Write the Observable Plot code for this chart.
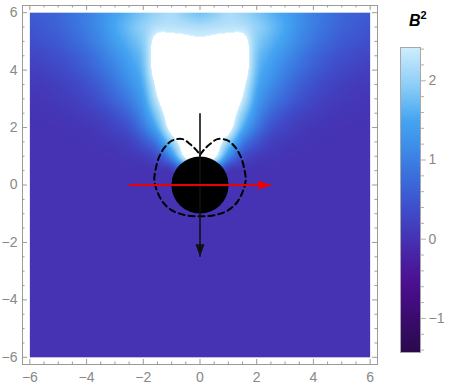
<!DOCTYPE html>
<html><head><meta charset="utf-8">
<script src="https://cdn.jsdelivr.net/npm/d3@7"></script>
<script src="https://cdn.jsdelivr.net/npm/@observablehq/plot@0.6"></script>
<style>
body{margin:0;background:#fff;}
#wrap{position:relative;width:458px;height:392px;overflow:hidden;background:#fff;}
#wrap svg{position:absolute;top:0;}
#blabel{position:absolute;left:409px;top:13px;font:italic bold 16px "Liberation Sans",Arial,sans-serif;line-height:16px;color:#000;white-space:nowrap;}
</style></head><body>
<div id="wrap"><div id="blabel">B<span style="font-size:11px;font-style:normal;position:relative;top:-7px;">2</span></div></div>
<script>
// ---- B^2 field (rows: y, columns: x) ----
const gridX = [-6,-5.5,-5,-4.5,-4,-3.5,-3,-2.5,-2,-1.5,-1,-0.5,0,0.5,1,1.5,2,2.5,3,3.5,4,4.5,5,5.5,6];
const gridY = [6,5.5,5,4.5,4,3.5,3,2.5,2,1.5,1,0.5,0,-3,-6];
const b2Rows = [
 [0.55,0.6,0.7,0.85,1.0,1.2,1.45,1.65,1.85,2.05,2.15,1.95,1.8,1.95,2.15,2.05,1.85,1.65,1.45,1.2,1.0,0.85,0.7,0.6,0.55],
 [0.48,0.55,0.65,0.8,0.98,1.2,1.5,1.75,2.0,2.25,2.28,2.25,2.2,2.25,2.28,2.25,2.0,1.75,1.5,1.2,0.98,0.8,0.65,0.55,0.48],
 [0.4,0.45,0.55,0.7,0.88,1.1,1.4,1.65,1.95,2.67,2.69,2.62,2.57,2.62,2.69,2.67,1.95,1.65,1.4,1.1,0.88,0.7,0.55,0.45,0.4],
 [0.28,0.33,0.42,0.55,0.72,0.95,1.2,1.5,1.85,2.87,3.2,3.3,3.3,3.3,3.2,2.87,1.85,1.5,1.2,0.95,0.72,0.55,0.42,0.33,0.28],
 [0.18,0.22,0.3,0.42,0.58,0.8,1.05,1.35,1.75,2.9,3.5,3.8,3.9,3.8,3.5,2.9,1.75,1.35,1.05,0.8,0.58,0.42,0.3,0.22,0.18],
 [0.1,0.12,0.18,0.28,0.42,0.62,0.88,1.18,1.6,2.62,3.4,3.8,3.9,3.8,3.4,2.62,1.6,1.18,0.88,0.62,0.42,0.28,0.18,0.12,0.1],
 [0.05,0.07,0.11,0.18,0.3,0.46,0.7,0.98,1.42,2.38,3.3,3.8,3.95,3.8,3.3,2.38,1.42,0.98,0.7,0.46,0.3,0.18,0.11,0.07,0.05],
 [0.02,0.03,0.05,0.09,0.16,0.27,0.45,0.72,1.2,2.0,3.0,3.8,4.0,3.8,3.0,2.0,1.2,0.72,0.45,0.27,0.16,0.09,0.05,0.03,0.02],
 [0,0,0.01,0.03,0.06,0.13,0.26,0.45,0.9,1.6,2.75,3.6,3.9,3.6,2.75,1.6,0.9,0.45,0.26,0.13,0.06,0.03,0.01,0,0],
 [0,0,0,0,0.02,0.05,0.1,0.2,0.5,1.0,2.0,2.95,3.6,2.95,2.0,1.0,0.5,0.2,0.1,0.05,0.02,0,0,0,0],
 [0,0,0,0,0,0,0.02,0.06,0.15,0.4,1.2,2.6,3.4,2.6,1.2,0.4,0.15,0.06,0.02,0,0,0,0,0,0],
 [0,0,0,0,0,0,0,0,0,0.03,0.1,0.8,1,0.8,0.1,0.03,0,0,0,0,0,0,0,0,0],
 [0,0,0,0,0,0,0,0,0,0,0,0,0,0,0,0,0,0,0,0,0,0,0,0,0],
 [0,0,0,0,0,0,0,0,0,0,0,0,0,0,0,0,0,0,0,0,0,0,0,0,0],
 [0,0,0,0,0,0,0,0,0,0,0,0,0,0,0,0,0,0,0,0,0,0,0,0,0]
];

// ---- overlays ----
const disk = [{x: 0, y: 0}];
const diskRadius = 1;
const ergoAngles = [90,83,76,69,58,47,34,20,6,-9.5,-26,-42.5,-62,-82,-90,-98,-118,-137.5,-154,-170.5,174,160,146,133,122,111,104,97,90];
const ergoRadii  = [1.05,1.25,1.47,1.71,1.83,1.81,1.74,1.66,1.62,1.52,1.43,1.32,1.18,1.10,1.09,1.10,1.18,1.32,1.43,1.52,1.62,1.66,1.74,1.81,1.83,1.71,1.47,1.25,1.05];
const redArrow = [{x1: -2.5, y1: 0, x2: 2.5, y2: 0}];
const blackArrow = [{x1: 0, y1: 2.5, x2: 0, y2: -2.5}];

// ---- ticks ----
const xTicks = [-6,-4,-2,0,2,4,6];
const yTicks = [-6,-4,-2,0,2,4,6];
const cbTicks = [-1,0,1,2];

// ---- colour bar ----
const cbMin = -1.43, cbMax = 2.42;
const cbStops  = [-1.43,-1.0,-0.6,-0.3,0,0.4,0.8,1.2,1.5,1.9,2.2,2.42];
const cbColors = ["#2b0a4c","#3a0b6e","#4a0e8e","#4a1d9f","#4533b3","#3f4fcc","#3b6fdc","#3d90ea","#45a5f2","#85cbf6","#b0defa","#cdeefd"];

const ramp = d3.scaleLinear().domain(cbStops).range(cbColors).clamp(true);
const colorScale = {type: "linear", domain: [cbMin, cbMax],
  interpolate: t => t > 1.0005 ? "#ffffff" : ramp(cbMin + t * (cbMax - cbMin))};

// smooth (bicubic) lookup into the sampled grid — rendering of the field
const gyAsc = gridY.slice().reverse();
const rowsAsc = b2Rows.slice().reverse();
const cr = (p0, p1, p2, p3, t) => p1 + 0.5 * t * (p2 - p0 + t * (2 * p0 - 5 * p1 + 4 * p2 - p3 + t * (3 * (p1 - p2) + p3 - p0)));
function sampleB2(x, y) {
  const nx = gridX.length, ny = gyAsc.length;
  const i = Math.min(Math.max(d3.bisectRight(gridX, x) - 1, 0), nx - 2);
  const j = Math.min(Math.max(d3.bisectRight(gyAsc, y) - 1, 0), ny - 2);
  const tx = Math.min(Math.max((x - gridX[i]) / (gridX[i + 1] - gridX[i]), 0), 1);
  const ty = Math.min(Math.max((y - gyAsc[j]) / (gyAsc[j + 1] - gyAsc[j]), 0), 1);
  const ci = k => Math.min(Math.max(k, 0), nx - 1), cj = k => Math.min(Math.max(k, 0), ny - 1);
  const cols = [ci(i - 1), i, i + 1, ci(i + 2)], rws = [cj(j - 1), j, j + 1, cj(j + 2)];
  const rowVal = r => cr(rowsAsc[r][cols[0]], rowsAsc[r][cols[1]], rowsAsc[r][cols[2]], rowsAsc[r][cols[3]], tx);
  const v = cr(rowVal(rws[0]), rowVal(rws[1]), rowVal(rws[2]), rowVal(rws[3]), ty);
  let lo = Infinity, hi = -Infinity;
  for (const r of rws) for (const c of cols) { const q = rowsAsc[r][c]; if (q < lo) lo = q; if (q > hi) hi = q; }
  return Math.min(Math.max(v, lo), hi);
}

const ergoPts = ergoAngles.map((a, i) => ({x: ergoRadii[i] * Math.cos(a * Math.PI / 180), y: ergoRadii[i] * Math.sin(a * Math.PI / 180)}));

const xMinor = d3.range(-6, 6.001, 0.5).filter(v => !xTicks.includes(v));
const yMinor = d3.range(-6, 6.001, 0.5).filter(v => !yTicks.includes(v));
const cbMinor = d3.range(-1.4, 2.41, 0.2).map(v => Math.round(v * 10) / 10).filter(v => !cbTicks.includes(v));

const gray = "#9a9a9a";
const font = {fontFamily: "'Liberation Sans', Arial, sans-serif", fontSize: "14px", color: "#888", background: "transparent"};

const W = 380, H = 392, ML = 22, MR = 3, MT = 5, MB = 28;
const xDom = [-6.26, 6.26], yDom = [-6.25, 6.25];
const innerW = W - ML - MR, innerH = H - MT - MB;
const pxPerUnit = (innerW / (xDom[1] - xDom[0]) + innerH / (yDom[1] - yDom[0])) / 2;
const majorLen = 5, minorLen = 2.5;

const arrowHead = {draw(ctx) { ctx.moveTo(0, 0); ctx.lineTo(-4.5, 12.5); ctx.lineTo(4.5, 12.5); ctx.closePath(); }};

const main = Plot.plot({
  width: W, height: H, marginLeft: ML, marginRight: MR, marginTop: MT, marginBottom: MB,
  x: {domain: xDom, axis: null, label: null},
  y: {domain: yDom, axis: null, label: null},
  color: colorScale,
  style: font,
  marks: [
    Plot.raster({fill: (x, y) => sampleB2(x, y), x1: -6, x2: 6, y1: -6, y2: 6}),
    Plot.line(ergoPts, {x: "x", y: "y", curve: "catmull-rom", stroke: "#000", strokeWidth: 2, strokeDasharray: "6,4"}),
    Plot.dot(disk, {x: "x", y: "y", r: diskRadius * pxPerUnit, fill: "#000", stroke: "none"}),
    Plot.link(blackArrow, {x1: "x1", y1: "y1", x2: "x2", y2: "y2", stroke: "#111", strokeWidth: 1.6}),
    Plot.dot(blackArrow, {x: "x2", y: "y2", symbol: arrowHead, rotate: 180, fill: "#111", stroke: "none"}),
    Plot.link(redArrow, {x1: "x1", y1: "y1", x2: "x2", y2: "y2", stroke: "#ee0000", strokeWidth: 2.2}),
    Plot.dot(redArrow, {x: "x2", y: "y2", symbol: arrowHead, rotate: 90, fill: "#ee0000", stroke: "none"}),
    Plot.tickX(xTicks, {x: d => d, insetTop: innerH - majorLen, stroke: gray}),
    Plot.tickX(xTicks, {x: d => d, insetBottom: innerH - majorLen, stroke: gray}),
    Plot.tickX(xMinor, {x: d => d, insetTop: innerH - minorLen, stroke: gray}),
    Plot.tickX(xMinor, {x: d => d, insetBottom: innerH - minorLen, stroke: gray}),
    Plot.tickY(yTicks, {y: d => d, insetRight: innerW - majorLen, stroke: gray}),
    Plot.tickY(yTicks, {y: d => d, insetLeft: innerW - majorLen, stroke: gray}),
    Plot.tickY(yMinor, {y: d => d, insetRight: innerW - minorLen, stroke: gray}),
    Plot.tickY(yMinor, {y: d => d, insetLeft: innerW - minorLen, stroke: gray}),
    Plot.frame({stroke: gray}),
    Plot.axisX(xTicks, {anchor: "bottom", tickSize: 0, tickPadding: 7.5, label: null}),
    Plot.axisY(yTicks, {anchor: "left", tickSize: 0, tickPadding: 5, label: null})
  ]
});
main.style.left = "0px";

const CBW = 78;
const cb = Plot.plot({
  width: CBW, height: 392, marginLeft: 20, marginRight: CBW - 40, marginTop: 47, marginBottom: 40,
  x: {domain: [0, 1], axis: null},
  y: {domain: [cbMin, cbMax], axis: null, label: null},
  color: colorScale,
  style: font,
  marks: [
    Plot.raster({fill: (x, y) => y, x1: 0, x2: 1, y1: cbMin, y2: cbMax}),
    Plot.frame({stroke: "#a8a8a8"}),
    Plot.axisY(cbMinor, {anchor: "right", tickSize: 3, tickFormat: () => "", stroke: "#b0b0b0", label: null}),
    Plot.axisY(cbTicks, {anchor: "right", tickSize: 5, tickPadding: 3, tickFormat: d3.format("d"), stroke: "#b0b0b0", label: null})
  ]
});
cb.style.left = "380px";

const wrap = document.getElementById("wrap");
wrap.insertBefore(cb, wrap.firstChild);
wrap.insertBefore(main, wrap.firstChild);
</script>
</body></html>
